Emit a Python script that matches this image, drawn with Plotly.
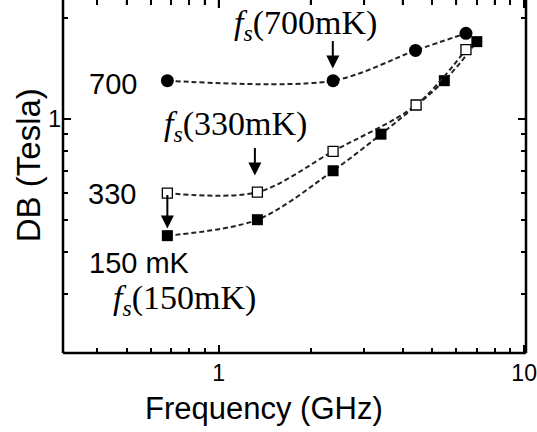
import numpy as np
import plotly.graph_objects as go

# Depinning field DB versus drive frequency at three temperatures
freq_700 = [0.68, 2.37, 4.41, 6.45]
db_700 = [1.30, 1.30, 1.60, 1.80]

freq_330 = [0.68, 1.34, 2.37, 4.43, 6.45]
db_330 = [0.60, 0.604, 0.80, 1.10, 1.61]

freq_150 = [0.68, 1.34, 2.37, 3.40, 5.48, 7.00]
db_150 = [0.448, 0.50, 0.70, 0.90, 1.30, 1.70]

x_major = [1, 10]
x_major_text = ["1", "10"]
x_minor = [0.4, 0.5, 0.6, 0.7, 0.8, 0.9, 2, 3, 4, 5, 6, 7, 8, 9]
y_major = [1]
y_major_text = ["1"]
y_minor = [0.3, 0.4, 0.5, 0.6, 0.7, 0.8, 0.9, 2]

W, H = 537, 432
L, R, T, B = 63, 8, 0, 79
PW, PH = W - L - R, H - T - B
DECADE_X, DECADE_Y = 307.6, 335.0


def paper_x(px):
    return (px - L) / PW


def paper_y(py):
    return (H - B - py) / PH


line_style = dict(color="#222", width=2, dash="5px,3px", shape="spline", smoothing=0.9)

fig = go.Figure()
fig.add_trace(go.Scatter(
    x=freq_150, y=db_150, mode="lines+markers", line=line_style,
    marker=dict(symbol="square", size=11, color="black", line=dict(width=0)),
    showlegend=False))
fig.add_trace(go.Scatter(
    x=freq_330, y=db_330, mode="lines+markers", line=line_style,
    marker=dict(symbol="square", size=10, color="white", line=dict(color="black", width=1.3)),
    showlegend=False))
fig.add_trace(go.Scatter(
    x=freq_700, y=db_700, mode="lines+markers", line=line_style,
    marker=dict(symbol="circle", size=13, color="black", line=dict(width=0)),
    showlegend=False))

tick_font = dict(family="Liberation Sans", size=23, color="black")
axis_common = dict(
    type="log", showgrid=False, zeroline=False, showline=False,
    ticks="inside", ticklen=8, tickwidth=1.5, tickcolor="black", mirror="ticks",
    ticklabeloverflow="allow",
)
x_hi = 1.006
fig.update_xaxes(
    range=[x_hi - PW / DECADE_X, x_hi], tickmode="array", tickvals=x_major, ticktext=x_major_text,
    tickfont=tick_font, ticklabelstandoff=4,
    minor=dict(tickmode="array", tickvals=x_minor, ticks="inside", ticklen=5,
               tickwidth=1.5, tickcolor="black", showgrid=False),
    **axis_common)
y_lo = np.log10(0.2)
fig.update_yaxes(
    range=[y_lo, y_lo + PH / DECADE_Y], tickmode="array",
    tickvals=y_major, ticktext=y_major_text, ticklabelstandoff=1, tickfont=tick_font,
    minor=dict(tickmode="array", tickvals=y_minor, ticks="inside", ticklen=5,
               tickwidth=1.5, tickcolor="black", showgrid=False),
    **axis_common)

# frame on left, bottom and right sides
frame = dict(type="line", xref="paper", yref="paper", line=dict(color="black", width=2.5))
fig.add_shape(x0=0, x1=0, y0=0, y1=1.01, **frame)
fig.add_shape(x0=0, x1=1, y0=0, y1=0, **frame)
fig.add_shape(x0=1, x1=1, y0=0, y1=1.01, **frame)

# tick marks along the top edge
for v in x_major + x_minor:
    tick_len = 8 if v in x_major else 5
    fig.add_shape(type="line", xref="x", yref="paper", x0=v, x1=v, y0=1.0,
                  y1=1.0 - tick_len / PH, line=dict(color="black", width=1.5))

sans = dict(family="Liberation Sans", size=29, color="black")
serif = dict(family="Liberation Serif", size=34, color="black")

labels = [
    ("700", 113, 84, sans),
    ("330", 112, 194, sans),
    ("150 mK", 140, 263, sans),
    ("<i>f</i><sub><i>s</i></sub>(700mK)", 307, 25, serif),
    ("<i>f</i><sub><i>s</i></sub>(330mK)", 237, 126, serif),
    ("<i>f</i><sub><i>s</i></sub>(150mK)", 185, 300, serif),
]
for text, px, py, font in labels:
    fig.add_annotation(text=text, x=paper_x(px), y=paper_y(py), xref="paper", yref="paper",
                       xanchor="center", yanchor="middle", showarrow=False, font=font)

# arrows marking f_s on each curve (tip position in data units, tail offset in px)
arrows = [(2.365, 1.413, -29), (1.315, 0.677, -29), (0.68, 0.4705, -35)]
for fx, fy, tail in arrows:
    fig.add_annotation(x=np.log10(fx), y=np.log10(fy), xref="x", yref="y", text="",
                       showarrow=True, arrowhead=2, arrowsize=1.3, arrowwidth=2,
                       arrowcolor="black", ax=0, ay=tail, standoff=0)

fig.add_annotation(text="DB (Tesla)", x=paper_x(28), y=paper_y(165), xref="paper", yref="paper",
                   textangle=-90, showarrow=False, xanchor="center", yanchor="middle",
                   font=dict(family="Liberation Sans", size=33, color="black"))
fig.add_annotation(text="Frequency (GHz)", x=paper_x(265), y=paper_y(408), xref="paper",
                   yref="paper", showarrow=False, xanchor="center", yanchor="middle",
                   font=dict(family="Liberation Sans", size=31, color="black"))

fig.update_layout(
    width=W, height=H, margin=dict(l=L, r=R, t=T, b=B, pad=0),
    paper_bgcolor="white", plot_bgcolor="white",
)

fig.write_html("out.html")
